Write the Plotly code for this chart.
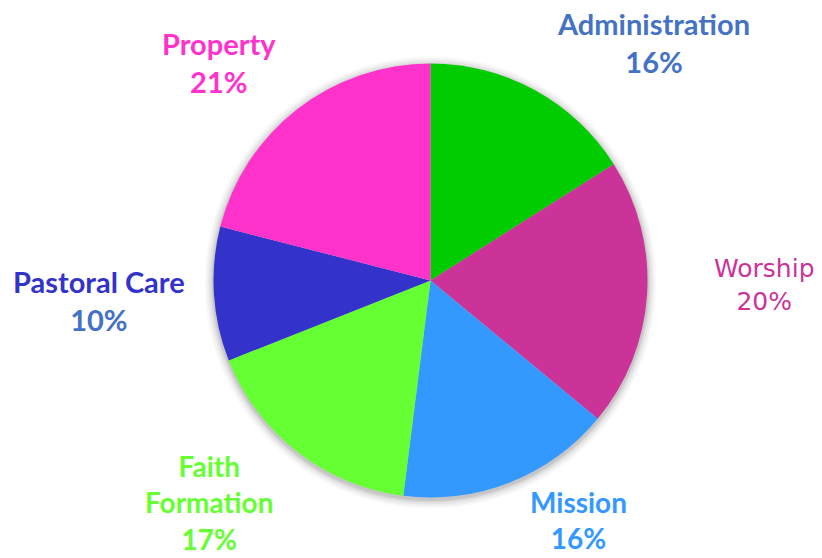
import plotly.graph_objects as go

# ---- data ----
categories = ["Administration", "Worship", "Mission", "Faith Formation", "Pastoral Care", "Property"]
values = [16, 20, 16, 17, 10, 21]
slice_colors = ["#00CC00", "#CC3399", "#3399FF", "#66FF33", "#3333CC", "#FF33CC"]
label_names = ["Administration", "Worship", "Mission", "Faith<br>Formation", "Pastoral Care", "Property"]
name_colors = ["#4472C4", "#CC3399", "#3399FF", "#66FF33", "#3333CC", "#FF33CC"]
pct_colors = ["#4472C4", "#CC3399", "#3399FF", "#66FF33", "#4472C4", "#FF33CC"]

# ---- layout (label positions in pixels) ----
W, H = 822, 558
cx, cy, r = 430.5, 280.5, 217
label_pos = [(653, 42), (764, 285), (578, 520), (209, 502), (99, 300), (219, 62)]
label_fonts = ["Lato", "DejaVu Sans", "Lato", "Lato", "Lato", "Lato"]
label_bold = [True, False, True, True, True, True]
label_sizes = [29, 25, 28, 28, 29, 29]

total = sum(values)

fig = go.Figure()
fig.add_trace(go.Pie(
    labels=categories,
    values=values,
    marker=dict(colors=slice_colors, line=dict(width=0)),
    sort=False,
    direction="clockwise",
    rotation=0,
    textinfo="none",
    hoverinfo="label+percent",
    domain=dict(x=[(cx - r) / W, (cx + r) / W], y=[(H - cy - r) / H, (H - cy + r) / H]),
    showlegend=False,
))

# soft shadow around pie
shapes = []
for extra, op in [(9, 0.025), (7, 0.035), (5, 0.045), (3, 0.06), (1.5, 0.08)]:
    rr = r + extra
    oy = 2
    shapes.append(dict(
        type="circle", xref="paper", yref="paper", layer="below",
        x0=(cx - rr) / W, x1=(cx + rr) / W,
        y0=(H - (cy + oy) - rr) / H, y1=(H - (cy + oy) + rr) / H,
        fillcolor=f"rgba(0,0,0,{op})", line=dict(width=0),
    ))

annotations = []
for name, v, (lx, ly), nc, pc, fam, bold, fs in zip(label_names, values, label_pos, name_colors,
                                                     pct_colors, label_fonts, label_bold, label_sizes):
    pct = round(100 * v / total)
    t1 = f"<b>{name}</b>" if bold else name
    t2 = f"<b>{pct}%</b>" if bold else f"{pct}%"
    text = f"<span style='color:{nc}'>{t1}</span><br><span style='color:{pc}'>{t2}</span>"
    annotations.append(dict(
        x=lx / W, y=1 - ly / H, xref="paper", yref="paper",
        text=text, showarrow=False, xanchor="center", yanchor="middle",
        align="center", font=dict(family=fam, size=fs),
    ))

fig.update_layout(
    width=W, height=H,
    margin=dict(l=0, r=0, t=0, b=0),
    paper_bgcolor="white", plot_bgcolor="white",
    shapes=shapes, annotations=annotations,
)

fig.write_html("out.html", config={"displayModeBar": False},
               post_script="document.body.style.margin='0';document.body.style.overflow='hidden';")
